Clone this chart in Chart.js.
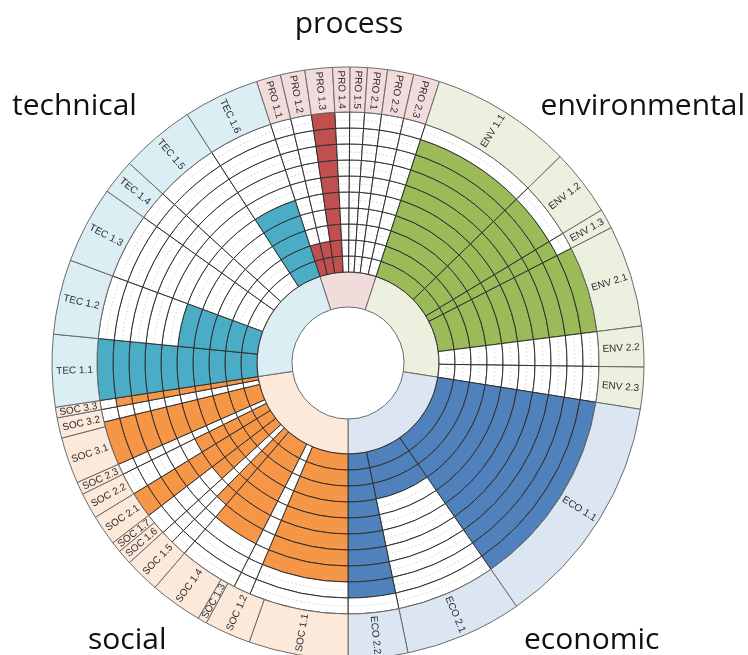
<!DOCTYPE html>
<html><head><meta charset="utf-8">
<script src="https://cdn.jsdelivr.net/npm/chart.js@4.4.0/dist/chart.umd.min.js"></script>
<style>
html,body{margin:0;padding:0;background:#fff;overflow:hidden;width:748px;height:655px}
#wrap{position:absolute;left:0;top:0;width:748px;height:726px}
</style>
</head><body><div id="wrap"><canvas id="c"></canvas></div>
<script>
// ---- DATA ----
const categories = ['process','environmental','economic','social','technical'];
const categoryWidths = [36, 81, 81, 81.4, 80.6];          // angular share (deg) of each category
const indicatorLabels = ['PRO 1.1','PRO 1.2','PRO 1.3','PRO 1.4','PRO 1.5','PRO 2.1','PRO 2.2','PRO 2.3',
  'ENV 1.1','ENV 1.2','ENV 1.3','ENV 2.1','ENV 2.2','ENV 2.3',
  'ECO 1.1','ECO 2.1','ECO 2.2',
  'SOC 1.1','SOC 1.2','SOC 1.3','SOC 1.4','SOC 1.5','SOC 1.6','SOC 1.7','SOC 2.1','SOC 2.2','SOC 2.3','SOC 3.1','SOC 3.2','SOC 3.3',
  'TEC 1.1','TEC 1.2','TEC 1.3','TEC 1.4','TEC 1.5','TEC 1.6'];
const indicatorWidths = [4.8,4.8,5.4,3.4,3.4,3.9,5.15,5.15,
  27.8,13.1,3.9,20,8,8.2,
  46.3,23,11.7,
  19.5,9.1,1.8,10.3,6.9,2.9,2.1,6.0,5.1,2.5,9.1,4.0,2.1,
  14.2,14.7,15.2,6.9,14.7,14.9];
// score bars (sub-indicators): category, angular width, first and last filled level (0 = none)
const barCategory = [0,0,0,0,0,0,0,0,
  1,1,1,1,1,1,
  2,2,2,
  3,3,3,3,3,3,3,3,3,3,3,3,
  4,4,4,4,4,4];
const barWidths   = [4.8,4.8,5.4,3.4,3.4,3.9,5.15,5.15,
  27.8,13.1,3.9,20,8,8.2,
  46.3,23,11.7,
  23.0,4.0,13.7,3.8,3.0,5.1,6.0,5.1,2.5,10.2,2.9,2.1,
  14.2,14.7,15.2,6.9,14.7,14.9];
const barStart    = [1,1,1,1,1,1,1,1,
  1,1,1,1,1,1,
  1,1,1,
  1,1,1,1,1,1,1,1,1,1,1,1,
  1,1,1,1,1,1];
const barValues   = [2,2,10,0,0,0,0,0,
  9,9,9,10,0,0,
  10,3,9,
  8,0,7,6,0,5,10,5,0,10,0,9,
  10,5,0,0,0,5];
const levels = [1,2,3,4,5,6,7,8,9,10];

// ---- STYLE ----
const lightColors = ['#f2dcdb','#ebf1de','#dce6f2','#fde9d9','#daeef3'];
const fillColors  = ['#c0504d','#9bbb59','#4f81bd','#f79646','#4bacc6'];
const prefixCat = {PRO:0, ENV:1, ECO:2, SOC:3, TEC:4};
const outward = [false,true,true,false,false];

const datasets = [];
datasets.push({
  data: indicatorWidths,
  backgroundColor: indicatorLabels.map(l => lightColors[prefixCat[l.slice(0,3)]]),
  borderColor: '#6a6a6a', borderWidth: 1, weight: 45
});
for (let k = levels.length - 1; k >= 0; k--) {
  const L = levels[k];
  datasets.push({
    data: barWidths,
    backgroundColor: barValues.map((v,i) => (v >= L && barStart[i] <= L) ? fillColors[barCategory[i]] : '#ffffff'),
    borderColor: '#303030', borderWidth: 1, weight: 16
  });
}
datasets.push({
  data: categoryWidths,
  backgroundColor: lightColors,
  borderColor: '#6a6a6a', borderWidth: 1, weight: 35
});

const textPlugin = {
  id: 'ringText',
  afterDatasetsDraw(chart) {
    const ctx = chart.ctx;
    const arc0 = chart.getDatasetMeta(0).data[0];
    const cx = arc0.x, cy = arc0.y;
    const inner = chart.getDatasetMeta(datasets.length-1).data[0];
    const base = inner.outerRadius;
    ctx.save();
    ctx.globalCompositeOperation = 'darken';
    ctx.strokeStyle = '#d9d9d9';
    ctx.lineWidth = 1;
    ctx.setLineDash([2,2]);
    for (let k = 0; k < levels.length; k++) {
      ctx.beginPath();
      ctx.arc(cx, cy, base + 16*k + 8, 0, Math.PI*2);
      ctx.stroke();
    }
    ctx.restore();
    const meta = chart.getDatasetMeta(0);
    ctx.save();
    ctx.font = '10px "Liberation Sans", Arial, sans-serif';
    ctx.fillStyle = '#2b2b33';
    ctx.textAlign = 'center';
    ctx.textBaseline = 'middle';
    meta.data.forEach((a, i) => {
      const mid = (a.startAngle + a.endAngle) / 2;
      const r = (a.innerRadius + a.outerRadius) / 2;
      const x = cx + r * Math.cos(mid), y = cy + r * Math.sin(mid);
      const cat = prefixCat[indicatorLabels[i].slice(0,3)];
      ctx.save();
      ctx.translate(x, y);
      ctx.rotate(outward[cat] ? mid : mid + Math.PI);
      ctx.fillText(indicatorLabels[i], 0, 0.5);
      ctx.restore();
    });
    ctx.restore();
    ctx.save();
    ctx.font = '30px "Open Sans", sans-serif';
    ctx.fillStyle = '#111';
    ctx.textBaseline = 'alphabetic';
    ctx.textAlign = 'center'; ctx.fillText(categories[0], 349, 33);
    ctx.textAlign = 'left';   ctx.fillText(categories[4], 12, 115);
    ctx.textAlign = 'right';  ctx.fillText(categories[1], 745, 115);
    ctx.textAlign = 'left';   ctx.fillText(categories[3], 88, 649);
    ctx.textAlign = 'left';   ctx.fillText(categories[2], 524, 649);
    ctx.restore();
  }
};

new Chart(document.getElementById('c'), {
  type: 'doughnut',
  data: { labels: indicatorLabels, datasets },
  options: {
    responsive: true, maintainAspectRatio: false, animation: false,
    rotation: -18, radius: 296, cutout: (56/296*100) + '%',
    layout: { padding: { left: 0, right: 52, top: 0, bottom: 0 } },
    plugins: { legend: { display: false }, tooltip: { enabled: false } },
    events: []
  },
  plugins: [textPlugin]
});
</script>
</body></html>
